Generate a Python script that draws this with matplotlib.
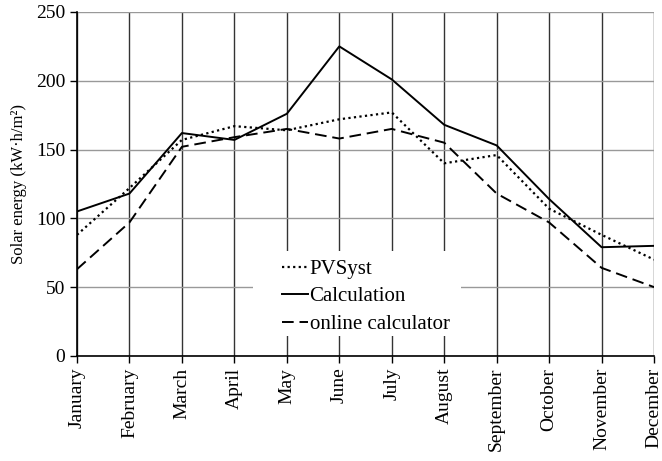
import matplotlib
matplotlib.use("Agg")
import matplotlib.pyplot as plt
from matplotlib.patches import Rectangle

months = ["January", "February", "March", "April", "May", "June", "July",
          "August", "September", "October", "November", "December"]
pvsyst = [88, 122, 157, 167, 164, 172, 177, 140, 146, 107, 88, 70]
calculation = [105, 118, 162, 157, 176, 225, 201, 168, 153, 114, 79, 80]
online = [63, 97, 152, 159, 165, 158, 165, 155, 118, 97, 64, 50]
yticks = [0, 50, 100, 150, 200, 250]

plt.rcParams['font.family'] = ['Liberation Serif', 'DejaVu Serif']
plt.rcParams['font.size'] = 14

fig = plt.figure(figsize=(6.62, 4.61), dpi=100)
ax = fig.add_axes([0.1163, 0.228, 0.8717, 0.746])

x = list(range(len(months)))
ax.plot(x, pvsyst, color='black', linestyle=(0, (1, 1.5)), linewidth=1.6, label='PVSyst')
ax.plot(x, calculation, color='black', linestyle='-', linewidth=1.4, label='Calculation')
ax.plot(x, online, color='black', linestyle=(0, (6, 3)), linewidth=1.4, label='online calculator')

ax.set_xlim(0, len(months) - 1)
ax.set_ylim(0, 250)
ax.set_xticks(x)
ax.set_xticklabels(months, rotation=90)
ax.set_yticks(yticks)
ax.set_ylabel('Solar energy (kW·h/m²)', fontsize=12, labelpad=6)

ax.xaxis.grid(True, color='#333333', linewidth=1.0)
ax.yaxis.grid(True, color='#999999', linewidth=1.0)
ax.set_axisbelow(True)
for s in ['top', 'right']:
    ax.spines[s].set_visible(False)
ax.spines['left'].set_linewidth(1.2)
ax.spines['bottom'].set_linewidth(1.2)
ax.tick_params(direction='out', length=5, width=1)

# white box behind the legend, hiding the grid
ax.add_patch(Rectangle((0.305, 0.058), 0.36, 0.247, transform=ax.transAxes,
                       facecolor='white', edgecolor='none', zorder=1.5))
ax.legend(loc='lower left', bbox_to_anchor=(0.355, 0.064), frameon=False,
          borderpad=0, borderaxespad=0, handlelength=1.25, handletextpad=0.08,
          labelspacing=0.38, fontsize=15)

fig.savefig('out.png', dpi=100)
